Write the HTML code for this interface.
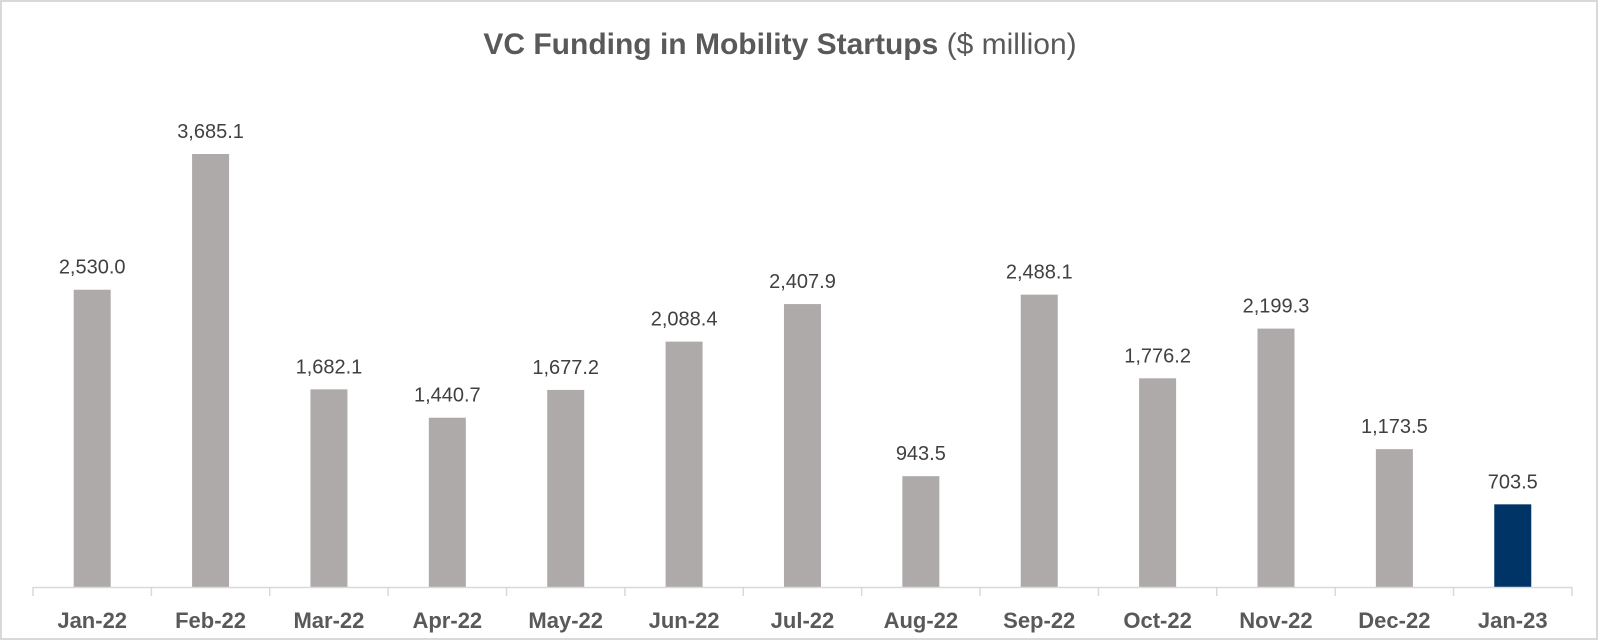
<!DOCTYPE html>
<html><head><meta charset="utf-8"><style>
html,body{margin:0;padding:0;background:#fff;}
svg{display:block;}
</style></head><body>
<svg width="1600" height="641" viewBox="0 0 1600 641" xmlns="http://www.w3.org/2000/svg" font-family="Liberation Sans, sans-serif">
<rect x="1" y="1" width="1596" height="638" fill="#fff" stroke="#d9d9d9" stroke-width="2"/>
<text x="780" y="54" text-anchor="middle" font-size="30" fill="#595959"><tspan font-weight="bold">VC Funding in Mobility Startups</tspan> ($ million)</text>
<g id="bars"></g>
<line x1="33" y1="587.5" x2="1572" y2="587.5" stroke="#d9d9d9" stroke-width="1.5"/>
<g id="ticks" stroke="#d9d9d9" stroke-width="1.5"></g>
<g id="labels"></g>
<script>
var d=[["Jan-22",2530.0],["Feb-22",3685.1],["Mar-22",1682.1],["Apr-22",1440.7],["May-22",1677.2],["Jun-22",2088.4],["Jul-22",2407.9],["Aug-22",943.5],["Sep-22",2488.1],["Oct-22",1776.2],["Nov-22",2199.3],["Dec-22",1173.5],["Jan-23",703.5]];
var ns="http://www.w3.org/2000/svg",b=document.getElementById("bars"),t=document.getElementById("ticks"),l=document.getElementById("labels");
var sp=118.38,k=433/3685.1,base=587;
function el(n,a,p,txt){var e=document.createElementNS(ns,n);for(var q in a)e.setAttribute(q,a[q]);if(txt)e.textContent=txt;p.appendChild(e);return e;}
for(var i=0;i<=13;i++){var x=33+sp*i;el("line",{x1:x,y1:587,x2:x,y2:596},t);}
d.forEach(function(r,i){var cx=33+sp*(i+0.5),h=r[1]*k;
el("rect",{x:cx-18.5,y:base-h,width:37,height:h,fill:i==12?"#003366":"#aeaaaa"},b);
el("text",{x:cx,y:base-h-16,"text-anchor":"middle","font-size":"20",fill:"#404040"},l,r[1].toLocaleString("en-US",{minimumFractionDigits:1,maximumFractionDigits:1}));
el("text",{x:cx,y:628,"text-anchor":"middle","font-size":"22","font-weight":"bold",fill:"#595959"},l,r[0]);});
</script>
</svg>
</body></html>
